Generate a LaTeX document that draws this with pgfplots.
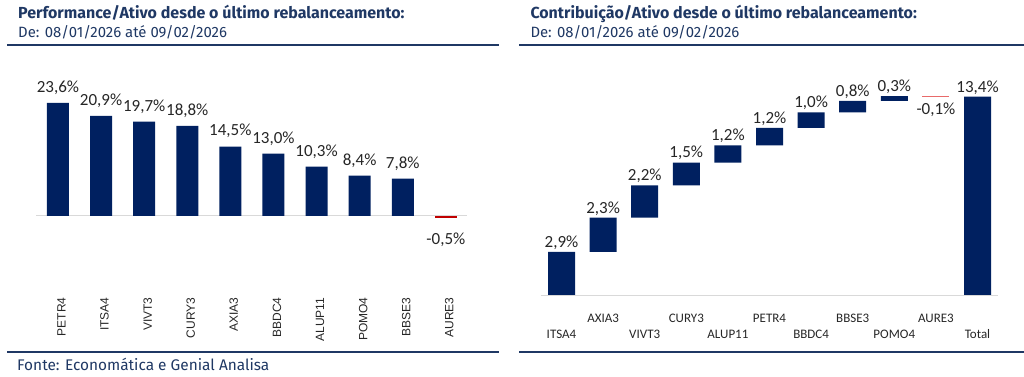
\documentclass[border=0pt]{standalone}
\usepackage{pgfplots}
\pgfplotsset{compat=1.18}
\usepackage{fontspec}
\setmainfont{Fira Sans}
\newfontfamily\carlito{Carlito}
\newfontfamily\lib{Liberation Sans}
\definecolor{navy}{HTML}{002060}
\definecolor{titlec}{HTML}{1F3864}
\definecolor{barred}{HTML}{C00000}
\definecolor{lightred}{HTML}{E86A6A}
\definecolor{zeroc}{HTML}{D9D9D9}
\definecolor{txt}{HTML}{262626}
\begin{document}
\begin{tikzpicture}[x=1pt,y=1pt]
\path[use as bounding box] (0,0) rectangle (1024,376);
% ---------- titles and rules ----------
\node[anchor=base west, inner sep=0pt, text=titlec, font=\fontsize{16}{16}\selectfont\bfseries] at (18,357.5) {Performance/Ativo desde o último rebalanceamento:};
\node[anchor=base west, inner sep=0pt, text=titlec, font=\fontsize{14.9}{15}\selectfont] at (18,338.7) {De: 08/01/2026 até 09/02/2026};
\draw[titlec, line width=2pt] (7,331.3) -- (499,331.3);
\node[anchor=base west, inner sep=0pt, text=titlec, font=\fontsize{16}{16}\selectfont\bfseries] at (530.3,357.5) {Contribuição/Ativo desde o último rebalanceamento:};
\node[anchor=base west, inner sep=0pt, text=titlec, font=\fontsize{14.9}{15}\selectfont] at (530.3,338.7) {De: 08/01/2026 até 09/02/2026};
\draw[titlec, line width=2pt] (519,331.3) -- (1024,331.3);
\draw[titlec, line width=2pt] (7,24.3) -- (499,24.3);
\draw[titlec, line width=2pt] (519,24) -- (1024,24);
\node[anchor=base west, inner sep=0pt, text=titlec, font=\fontsize{15.4}{15.4}\selectfont] at (17,5.3) {Fonte: Economática e Genial Analisa};
% ---------- left chart ----------
\begin{axis}[at={(36.4pt,78.6pt)}, anchor=south west, x=43.1pt, y=4.79pt,
  xmin=-0.5, xmax=9.5, ymin=-17, ymax=30, clip=false,
  axis line style={draw=none}, major tick length=0pt, ytick=\empty,
  xtick={0,...,9},
  xticklabels={PETR4,ITSA4,VIVT3,CURY3,AXIA3,BBDC4,ALUP11,POMO4,BBSE3,AURE3},
  xticklabel style={rotate=90, anchor=east, inner sep=0pt, yshift=-3.5pt, text=txt, font=\lib\fontsize{12}{12}\selectfont}]
\draw[zeroc, line width=1pt] (axis cs:-0.5,0) -- (axis cs:9.5,0);
\addplot[ybar, bar width=22pt, bar shift=0pt, fill=navy, draw=none] coordinates {(0,23.6) (1,20.9) (2,19.7) (3,18.8) (4,14.5) (5,13.0) (6,10.3) (7,8.4) (8,7.8)};
\addplot[ybar, bar width=22pt, bar shift=0pt, fill=barred, draw=none] coordinates {(9,-0.5)};
\addplot[draw=none, mark=none, nodes near coords, point meta=explicit symbolic,
  every node near coord/.append style={anchor=base, inner sep=0pt, yshift=10.6pt, text=txt, font=\carlito\fontsize{17}{17}\selectfont}]
  table[meta=l] {
x y l
0 23.6 23,6\%
1 20.9 20,9\%
2 19.7 19,7\%
3 18.8 18,8\%
4 14.5 14,5\%
5 13.0 13,0\%
6 10.3 10,3\%
7 8.4 8,4\%
8 7.8 7,8\%
};
\addplot[draw=none, mark=none, nodes near coords, point meta=explicit symbolic,
  every node near coord/.append style={anchor=base, inner sep=0pt, yshift=-26pt, text=txt, font=\carlito\fontsize{17}{17}\selectfont}]
  table[meta=l] {
x y l
9 -0.5 -0,5\%
};
\end{axis}
% ---------- right chart ----------
\begin{axis}[at={(540.7pt,80.4pt)}, anchor=south west, x=41.6pt, y=14.85pt,
  xmin=-0.5, xmax=10.5, ymin=0, ymax=15.5, clip=false,
  ybar stacked, bar width=27pt,
  axis line style={draw=none}, major tick length=0pt, ytick=\empty,
  xtick={0,2,4,6,8,10},
  xticklabels={ITSA4,VIVT3,ALUP11,BBDC4,POMO4,Total},
  xticklabel style={anchor=base, inner sep=0pt, yshift=-42.7pt, text=txt, font=\carlito\fontsize{13}{13}\selectfont},
  extra x ticks={1,3,5,7,9},
  extra x tick labels={AXIA3,CURY3,PETR4,BBSE3,AURE3},
  extra x tick style={xticklabel style={yshift=16.3pt}}]
\draw[zeroc, line width=1pt] (axis cs:-0.5,0) -- (axis cs:10.5,0);
\addplot[fill=none, draw=none] coordinates {(0,0) (1,2.94) (2,5.25) (3,7.43) (4,8.96) (5,10.12) (6,11.30) (7,12.34) (8,13.11) (9,13.37) (10,0)};
\addplot[fill=navy, draw=none] coordinates {(0,2.94) (1,2.31) (2,2.18) (3,1.53) (4,1.16) (5,1.18) (6,1.04) (7,0.77) (8,0.32) (9,0) (10,13.4)};
\addplot[fill=lightred, draw=none] coordinates {(0,0) (1,0) (2,0) (3,0) (4,0) (5,0) (6,0) (7,0) (8,0) (9,0.08) (10,0)};
\end{axis}
\begin{axis}[at={(540.7pt,80.4pt)}, anchor=south west, x=41.6pt, y=14.85pt,
  xmin=-0.5, xmax=10.5, ymin=0, ymax=15.5, clip=false, hide axis]
\addplot[draw=none, mark=none, nodes near coords, point meta=explicit symbolic,
  every node near coord/.append style={anchor=base, inner sep=0pt, yshift=4.6pt, text=txt, font=\carlito\fontsize{17}{17}\selectfont}]
  table[meta=l] {
x y l
0 2.94 2,9\%
1 5.25 2,3\%
2 7.43 2,2\%
3 8.96 1,5\%
4 10.12 1,2\%
5 11.30 1,2\%
6 12.34 1,0\%
7 13.11 0,8\%
8 13.43 0,3\%
10 13.4 13,4\%
};
\addplot[draw=none, mark=none, nodes near coords, point meta=explicit symbolic,
  every node near coord/.append style={anchor=base, inner sep=0pt, yshift=-17.6pt, text=txt, font=\carlito\fontsize{17}{17}\selectfont}]
  table[meta=l] {
x y l
9 13.37 -0,1\%
};
\end{axis}
\end{tikzpicture}
\end{document}
